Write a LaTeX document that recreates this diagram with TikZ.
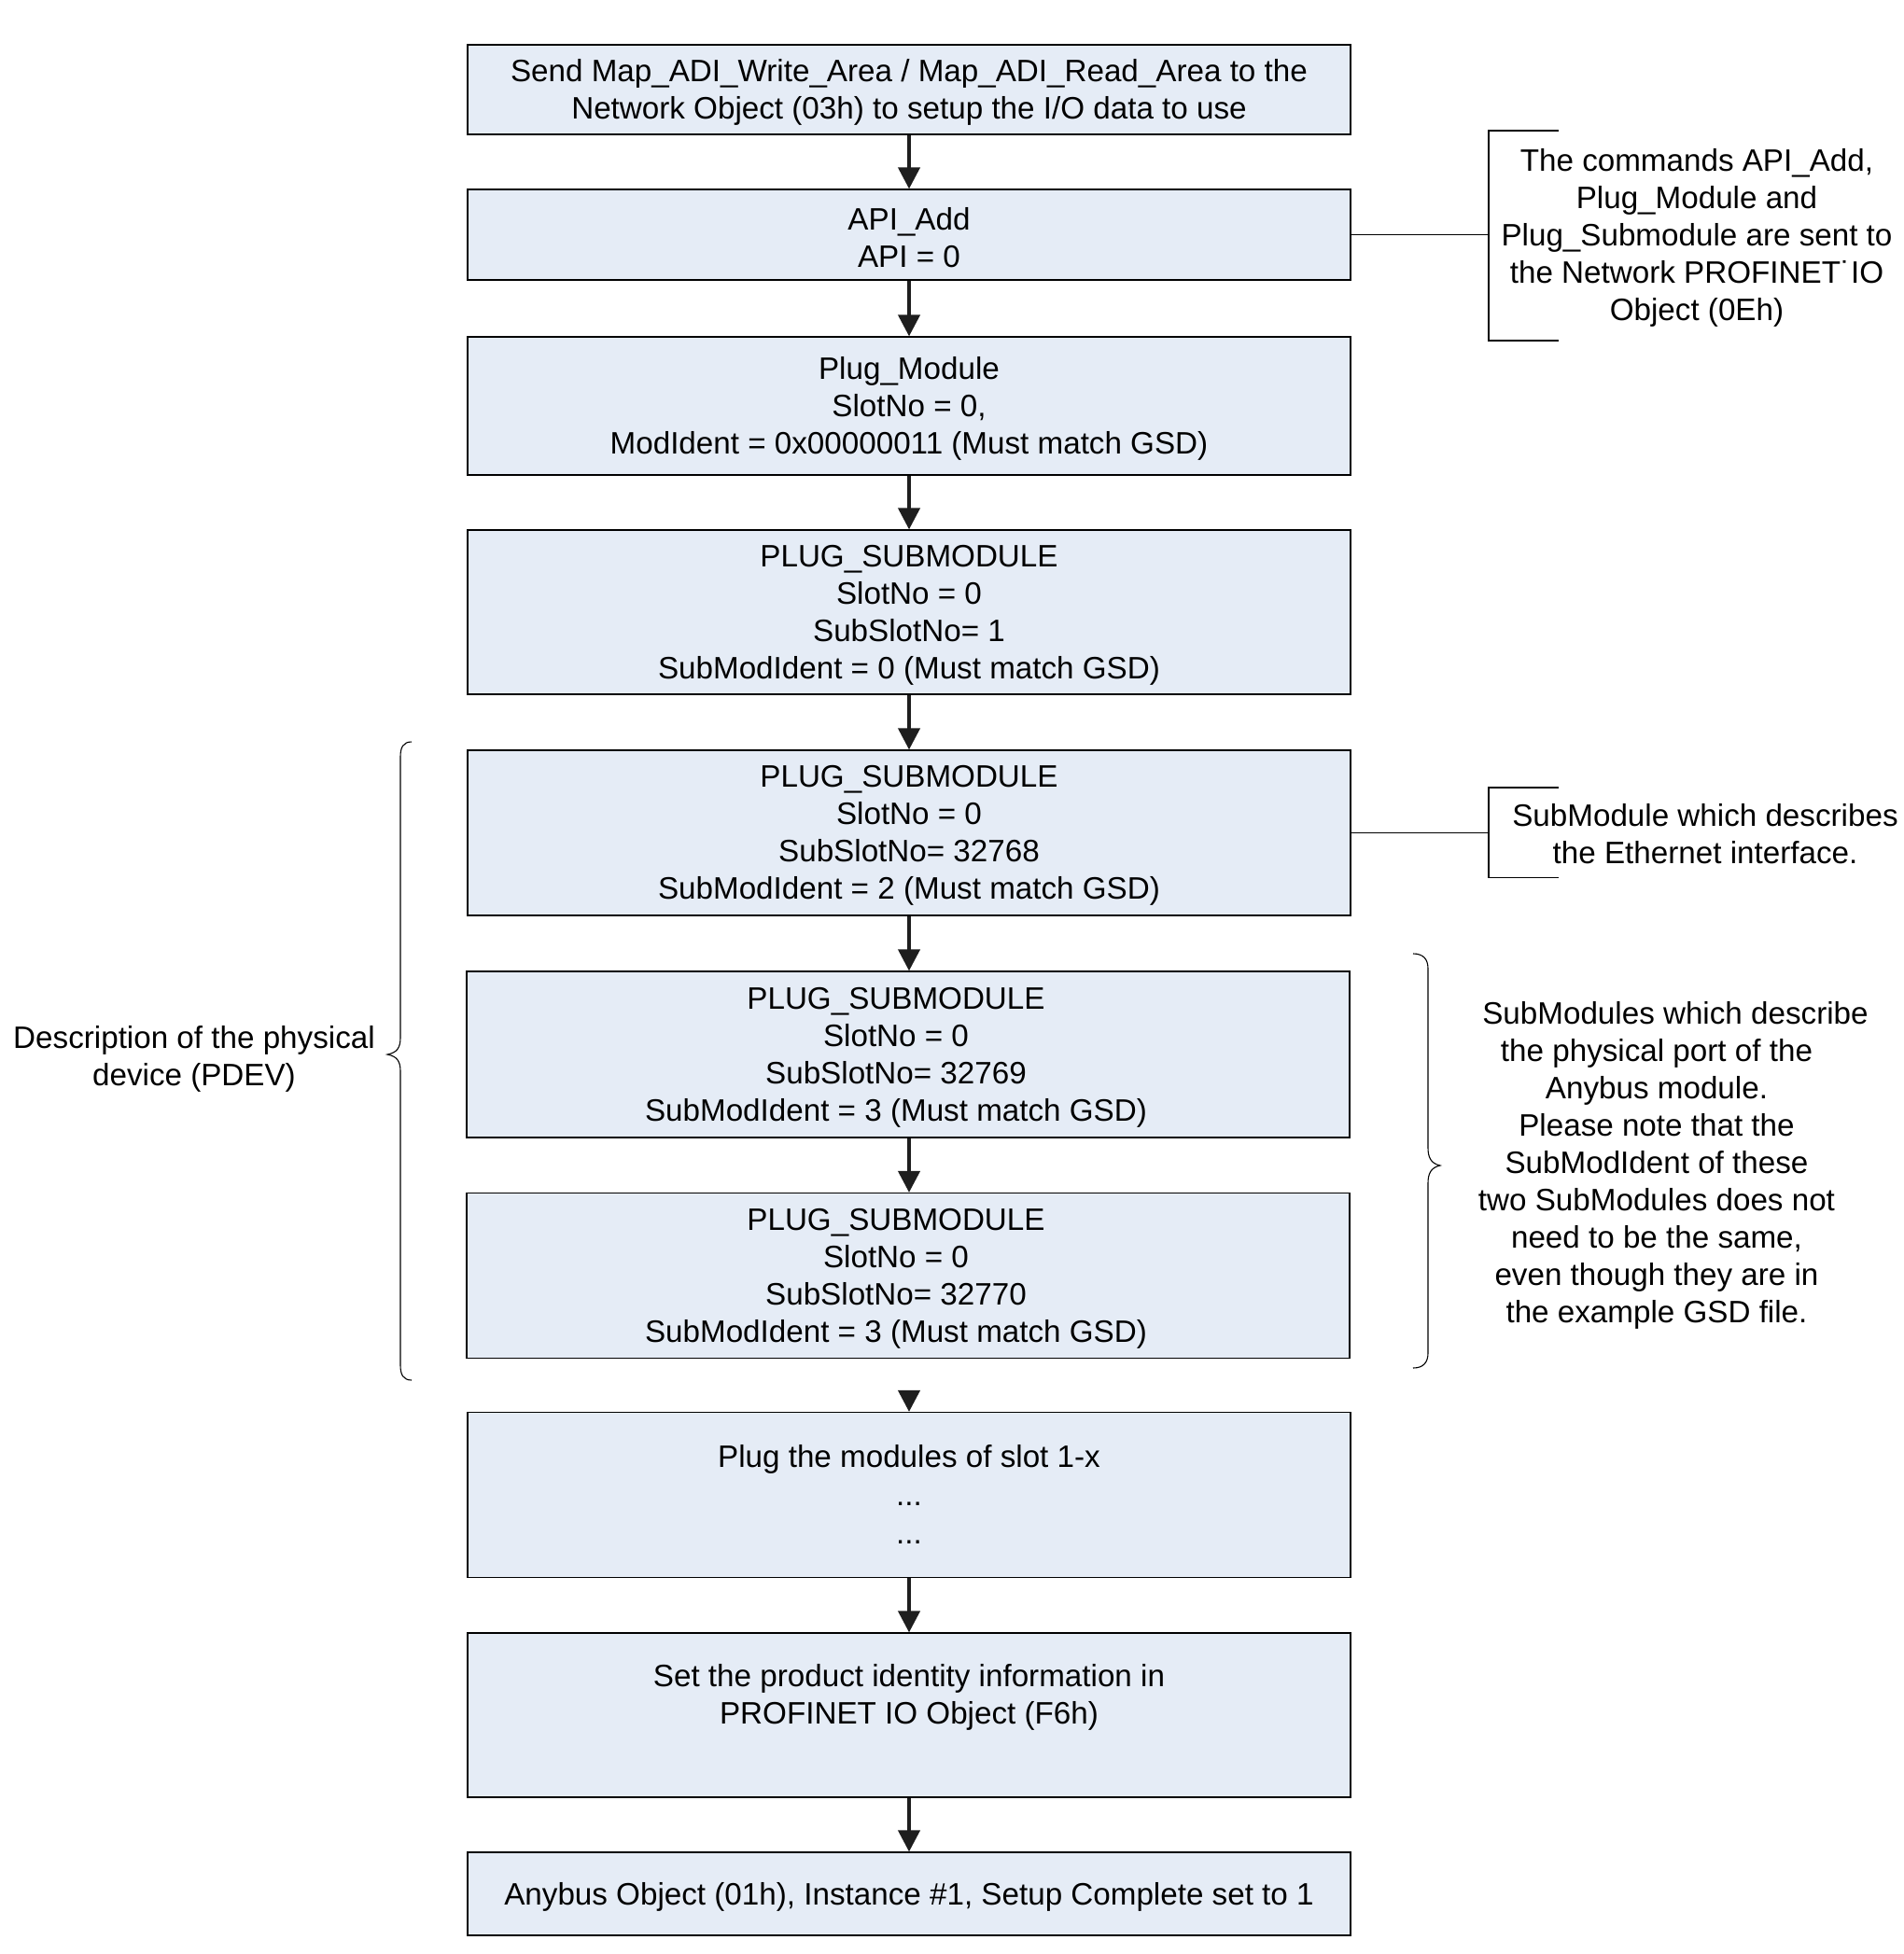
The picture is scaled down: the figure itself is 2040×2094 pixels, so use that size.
\documentclass[tikz,border=0pt]{standalone}
\usepackage{fontspec}
\setmainfont{Liberation Sans}
\usetikzlibrary{arrows.meta}
\definecolor{boxfill}{RGB}{229,236,246}
\definecolor{arrowcol}{RGB}{30,30,30}
\begin{document}
\begin{tikzpicture}[x=0.5pt,y=-0.5pt,
  every node/.style={font=\fontsize{16.6}{20}\selectfont, align=center, inner sep=0pt},
  box/.style={draw=black, line width=0.6pt, fill=boxfill, minimum width=473pt},
  btxt/.style={yshift=-1.5pt},
  conn/.style={draw=arrowcol, line width=2pt, -{Triangle[length=11.5pt,width=11.5pt]}},
  thin/.style={draw=black, line width=0.55pt}]
\useasboundingbox[fill=white] (0,0) rectangle (2040,2094);

\node[box, minimum height=48pt, label={[btxt]center:{Send Map\_ADI\_Write\_Area / Map\_ADI\_Read\_Area to the\\Network Object (03h) to setup the I/O data to use}}] (b1) at (974,96) {};
\node[box, minimum height=48.5pt, label={[btxt]center:{API\_Add\\API = 0}}] (b2) at (974,251.5) {};
\node[box, minimum height=74pt, label={[btxt]center:{Plug\_Module\\SlotNo = 0,\\ModIdent = 0x00000011 (Must match GSD)}}] (b3) at (974,435) {};
\node[box, minimum height=88pt, label={[btxt]center:{PLUG\_SUBMODULE\\SlotNo = 0\\SubSlotNo= 1\\SubModIdent = 0 (Must match GSD)}}] (b4) at (974,656) {};
\node[box, minimum height=88.5pt, label={[btxt]center:{PLUG\_SUBMODULE\\SlotNo = 0\\SubSlotNo= 32768\\SubModIdent = 2 (Must match GSD)}}] (b5) at (974,892.5) {};
\node[box, minimum height=89pt, label={[btxt, xshift=-6.5pt]center:{PLUG\_SUBMODULE\\SlotNo = 0\\SubSlotNo= 32769\\SubModIdent = 3 (Must match GSD)}}] (b6) at (973,1130) {};
\node[box, minimum height=88.5pt, label={[btxt, xshift=-6.5pt]center:{PLUG\_SUBMODULE\\SlotNo = 0\\SubSlotNo= 32770\\SubModIdent = 3 (Must match GSD)}}] (b7) at (973,1367) {};
\node[box, minimum height=88.5pt, label={[yshift=0.5pt]center:{Plug the modules of slot 1-x\\[0.5pt]...\\[0.5pt]...}}] (b8) at (974,1602) {};
\node[box, minimum height=88pt, label={[btxt]center:{Set the product identity information in\\PROFINET IO Object (F6h)\\\strut}}] (b9) at (974,1838) {};
\node[box, minimum height=44.5pt, label={[btxt]center:{Anybus Object (01h), Instance \#1, Setup Complete set to 1}}] (b10) at (974,2029.5) {};

\draw[conn] (b1) -- (b2);
\draw[conn] (b2) -- (b3);
\draw[conn] (b3) -- (b4);
\draw[conn] (b4) -- (b5);
\draw[conn] (b5.south) -- (b5.south |- b6.north);
\draw[conn] (b6.south -| b5.south) -- (b5.south |- b7.north);
\coordinate (a78) at (974,1490);
\draw[conn] (a78) -- (b8.north);
\draw[conn] (b8) -- (b9);
\draw[conn] (b9) -- (b10);

% annotation 1
\coordinate (br1) at (1595,251.5);
\draw[thin] (1670,140) -- (1595,140) -- (1595,365) -- (1670,365);
\draw[thin] (b2.east) -- (br1);
\node (t1) at (1818,255) {The commands API\_Add,\\Plug\_Module and\\Plug\_Submodule are sent to\\the Network PROFINET˙IO\\Object (0Eh)};

% annotation 2
\coordinate (br2) at (1595,892.5);
\draw[thin] (1670,844) -- (1595,844) -- (1595,940.5) -- (1670,940.5);
\draw[thin] (b5.east) -- (br2);
\node (t2) at (1827,894) {SubModule which describes\\the Ethernet interface.};

% right brace
\draw[thin] (1514,1022) .. controls (1525,1022) and (1530,1028) .. (1530,1038) -- (1530,1230) .. controls (1530,1240) and (1533,1247) .. (1543,1249) .. controls (1533,1251) and (1530,1258) .. (1530,1268) -- (1530,1450) .. controls (1530,1460) and (1525,1466) .. (1514,1466);
\node (t3) at (1775,1248.5) {\hspace*{20pt}SubModules which describe\\the physical port of the\\Anybus module.\\Please note that the\\SubModIdent of these\\two SubModules does not\\need to be the same,\\even though they are in\\the example GSD file.};

% left brace
\draw[thin] (441,795) .. controls (432,795) and (429,801) .. (429,811) -- (429,1112) .. controls (429,1122) and (426,1128) .. (415,1130) .. controls (426,1132) and (429,1138) .. (429,1148) -- (429,1463) .. controls (429,1473) and (432,1479) .. (441,1479);
\node (t4) at (208,1134.5) {Description of the physical\\device (PDEV)};
\end{tikzpicture}
\end{document}
